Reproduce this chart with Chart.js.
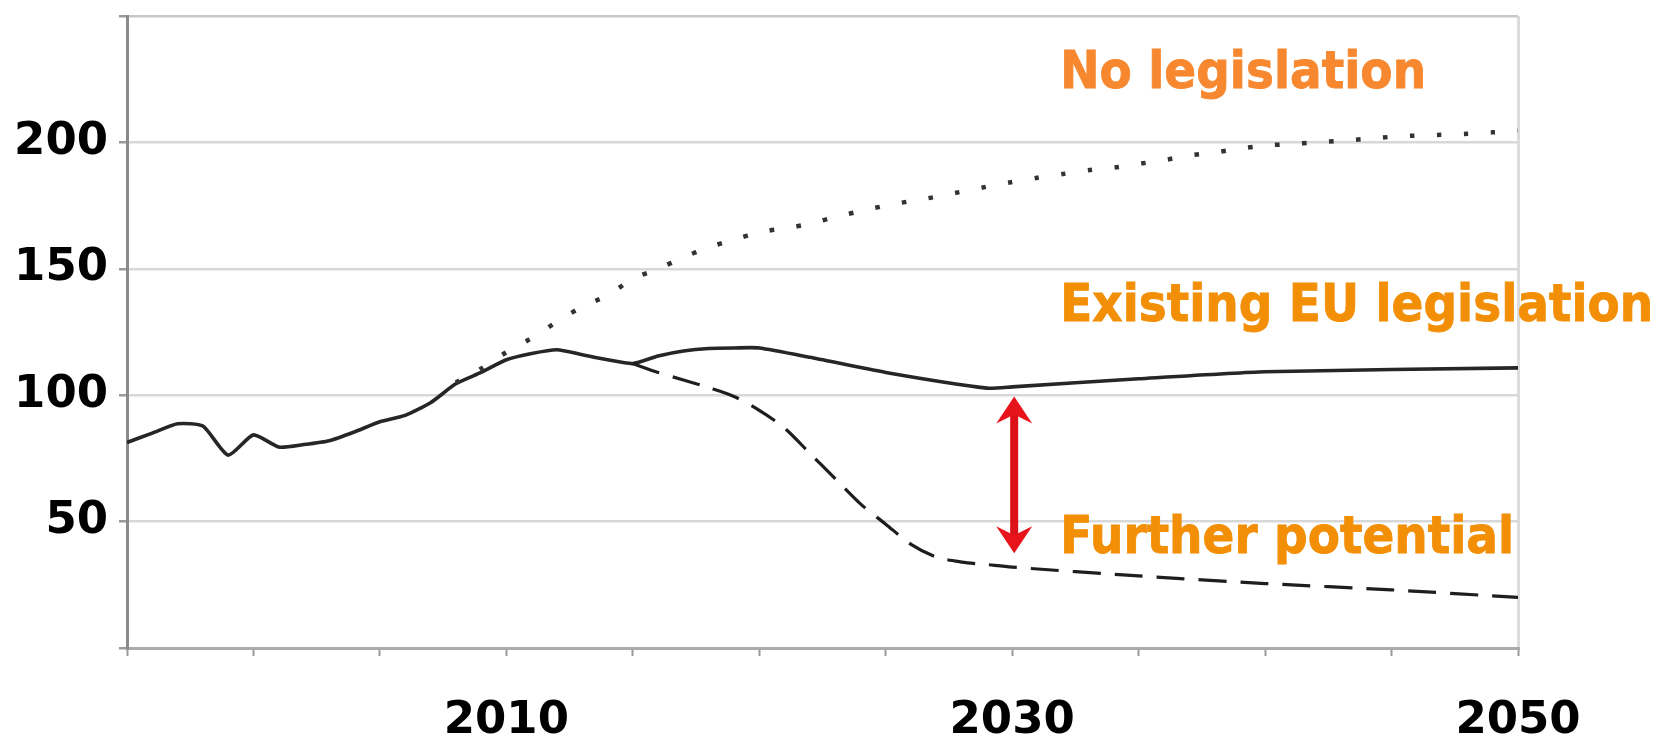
<!DOCTYPE html>
<html>
<head>
<meta charset="utf-8">
<script src="https://cdn.jsdelivr.net/npm/chart.js@4"></script>
<style>
  html, body { margin: 0; padding: 0; background: #ffffff; }
  #wrap { width: 1662px; height: 736px; position: relative; }
  canvas { display: block; }
</style>
</head>
<body>
<div id="wrap"><canvas id="c" width="1662" height="736"></canvas></div>
<script>
// ---- data ----
const histYears  = [1995,1996,1997,1998,1999,2000,2001,2002,2003,2004,2005,2006,2007,2008,2009,2010,2011,2012,2013,2014,2015,2016,2017,2018,2019,2020,2022,2025,2029,2030,2035,2040,2050];
const histValues = [81.3,85,88.7,87.8,76.3,84.3,79.5,80.5,82,85.5,89.5,92,97,104.5,109,114,116.5,118,116,114,112.5,115.5,117.5,118.5,118.7,118.7,115,109,102.8,103.3,106.5,109.3,110.8];

const furtherYears  = [2015,2016,2017,2018,2019,2020,2021,2022,2023,2024,2025,2026,2027,2028,2029,2030,2035,2040,2045,2050];
const furtherValues = [112.5,109,106,103,99.5,94,87,77,67,57,49,41,36,34,33,32,28.5,25.5,23,20];

const noLegYears  = [2008,2009,2010,2011,2012,2013,2014,2015,2016,2017,2018,2019,2020,2021,2022,2023,2024,2025,2026,2027,2028,2029,2030,2031,2032,2033,2034,2035,2036,2037,2038,2039,2040,2041,2042,2043,2044,2045,2046,2047,2048,2049,2050];
const noLegValues = [105,110.5,117,122.6,129,135,139.5,146,150,154.5,158.5,161.5,164.5,166,167.8,170.5,172.8,175,176.8,178.5,180.5,182.5,184.3,186,187.5,189,190,191.5,193,194.8,196,197.5,198.8,199.3,200,200.6,201.4,202.2,202.7,203,203.4,204,204.6];

const yTickLabels = [50, 100, 150, 200];
const xTickLabels = [2010, 2030, 2050];

const labelTexts = ["No legislation", "Existing EU legislation", "Further potential"];
const gapArrow = { year: 2030, from: 99.5, to: 37.5 };

// ---- helpers ----
const toXY = (xs, ys) => xs.map((x, i) => ({ x: x, y: ys[i] }));

const annotationPlugin = {
  id: 'annot',
  afterDatasetsDraw(chart) {
    const { ctx, scales: { x, y } } = chart;
    ctx.save();
    // red double-headed arrow
    const ax = x.getPixelForValue(gapArrow.year) + 2;
    const ay1 = y.getPixelForValue(gapArrow.from);
    const ay2 = y.getPixelForValue(gapArrow.to);
    ctx.fillStyle = '#e8141c';
    ctx.strokeStyle = '#dc1218';
    ctx.lineWidth = 8;
    ctx.beginPath();
    ctx.moveTo(ax, ay1 + 14);
    ctx.lineTo(ax, ay2 - 14);
    ctx.stroke();
    const head = (tipY, dir) => {
      ctx.beginPath();
      ctx.moveTo(ax, tipY);
      ctx.lineTo(ax + 18, tipY + dir * 27);
      ctx.lineTo(ax, tipY + dir * 18);
      ctx.lineTo(ax - 18, tipY + dir * 27);
      ctx.closePath();
      ctx.fill();
    };
    head(ay1, 1);
    head(ay2, -1);

    // orange labels (slightly tall bold face)
    ctx.font = 'bold 47px "DejaVu Sans", Verdana, sans-serif';
    ctx.textAlign = 'left';
    ctx.textBaseline = 'alphabetic';
    const lx = x.getPixelForValue(2031.9);
    const draw = (txt, color, val) => {
      ctx.save();
      ctx.translate(lx, y.getPixelForValue(val));
      ctx.scale(1, 1.09);
      ctx.fillStyle = color;
      ctx.strokeStyle = color;
      ctx.lineWidth = 0.8;
      ctx.fillText(txt, 0, 0);
      ctx.strokeText(txt, 0, 0);
      ctx.restore();
    };
    draw(labelTexts[0], '#f7882f', 221.5);
    draw(labelTexts[1], '#f28f06', 129.3);
    draw(labelTexts[2], '#f28f06', 37.5);
    ctx.restore();
  }
};

new Chart(document.getElementById('c'), {
  type: 'line',
  data: {
    datasets: [
      {
        label: 'No legislation',
        data: toXY(noLegYears, noLegValues),
        borderColor: '#333333',
        borderWidth: 4.5,
        borderDash: [4.5, 22.5],
        pointRadius: 0,
        tension: 0.3,
        fill: false
      },
      {
        label: 'Further potential',
        data: toXY(furtherYears, furtherValues),
        borderColor: '#1e1e1e',
        borderWidth: 3.2,
        borderDash: [28, 14],
        pointRadius: 0,
        tension: 0.3,
        fill: false
      },
      {
        label: 'Existing EU legislation',
        data: toXY(histYears, histValues),
        borderColor: '#262626',
        borderWidth: 3.6,
        pointRadius: 0,
        tension: 0.2,
        fill: false
      }
    ]
  },
  options: {
    responsive: false,
    animation: false,
    devicePixelRatio: 1,
    layout: { padding: { top: 16, right: 144, left: 0, bottom: 0 } },
    plugins: { legend: { display: false }, tooltip: { enabled: false } },
    scales: {
      x: {
        type: 'linear',
        min: 1995,
        max: 2050,
        afterFit(scale) { scale.height = 88; },
        ticks: {
          stepSize: 5,
          autoSkip: false,
          maxRotation: 0,
          padding: 38,
          color: '#000',
          font: { family: '"DejaVu Sans", Verdana, sans-serif', size: 45, weight: 'bold' },
          callback: (v) => xTickLabels.includes(v) ? String(v) : ''
        },
        grid: {
          color: (c) => (c.tick && c.tick.value === 2050) ? '#dcdcdc' : 'rgba(0,0,0,0)',
          lineWidth: 3,
          tickColor: '#9a9a9a',
          tickLength: 8,
          tickWidth: 2
        },
        border: { display: true, color: '#ababab', width: 3 }
      },
      y: {
        min: 0,
        max: 250,
        afterFit(scale) { scale.width = 127; scale.paddingTop = 0; scale.paddingBottom = 0; },
        ticks: {
          stepSize: 50,
          padding: 11,
          color: '#000',
          font: { family: '"DejaVu Sans", Verdana, sans-serif', size: 45, weight: 'bold' },
          callback: (v) => yTickLabels.includes(v) ? String(v) : ''
        },
        grid: {
          color: (c) => {
            if (!c.tick) return '#d6d6d6';
            if (c.tick.value === 0) return 'rgba(0,0,0,0)';
            if (c.tick.value === 250) return '#c8c8c8';
            return '#d8d8d8';
          },
          lineWidth: 2.5,
          tickColor: '#9a9a9a',
          tickLength: 8
        },
        border: { display: true, color: '#8a8a8a', width: 3 }
      }
    }
  },
  plugins: [annotationPlugin]
});
</script>
</body>
</html>
